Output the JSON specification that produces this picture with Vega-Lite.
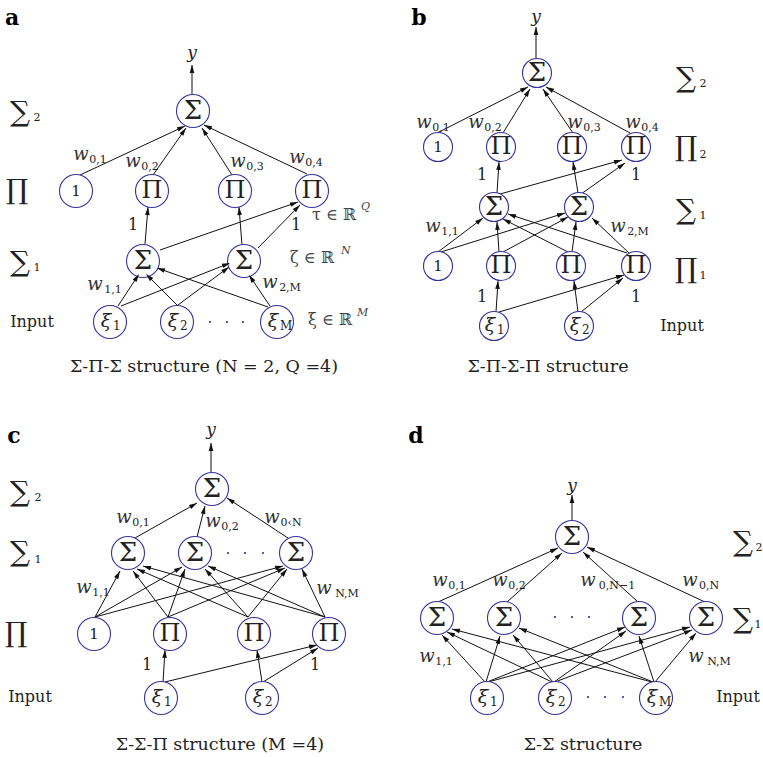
{
"$schema": "https://vega.github.io/schema/vega-lite/v6.json",
"width": 763, "height": 757,
"autosize": {"type": "fit", "contains": "padding"},
"padding": 0,
"background": "white",
"config": {"view": {"stroke": null}, "text": {"font": "DejaVu Serif", "color": "#222222"}},
"datasets": {
"edges": [
{"x":192,"y":95,"x2":192,"y2":65},
{"x":80,"y":175,"x2":185,"y2":126},
{"x":153,"y":175,"x2":186,"y2":128},
{"x":232,"y":175,"x2":202,"y2":128},
{"x":307,"y":174,"x2":204,"y2":125},
{"x":145,"y":244,"x2":148,"y2":207},
{"x":160,"y":250,"x2":298,"y2":202},
{"x":242,"y":245,"x2":239,"y2":207},
{"x":258,"y":248,"x2":300,"y2":205},
{"x":118,"y":306,"x2":139,"y2":274},
{"x":121,"y":306,"x2":230,"y2":263},
{"x":177,"y":305,"x2":146,"y2":274},
{"x":178,"y":305,"x2":229,"y2":267},
{"x":268,"y":307,"x2":157,"y2":268},
{"x":270,"y":306,"x2":249,"y2":275},
{"x":536,"y":59,"x2":536,"y2":27},
{"x":437,"y":133,"x2":528,"y2":87},
{"x":503,"y":133,"x2":530,"y2":89},
{"x":573,"y":133,"x2":543,"y2":89},
{"x":630,"y":133,"x2":546,"y2":87},
{"x":497,"y":193,"x2":499,"y2":162},
{"x":500,"y":194,"x2":622,"y2":160},
{"x":578,"y":193,"x2":573,"y2":162},
{"x":581,"y":194,"x2":625,"y2":163},
{"x":438,"y":252,"x2":483,"y2":218},
{"x":441,"y":252,"x2":565,"y2":213},
{"x":499,"y":252,"x2":497,"y2":222},
{"x":503,"y":252,"x2":568,"y2":217},
{"x":568,"y":252,"x2":503,"y2":219},
{"x":572,"y":252,"x2":576,"y2":222},
{"x":627,"y":253,"x2":508,"y2":214},
{"x":629,"y":253,"x2":592,"y2":218},
{"x":496,"y":312,"x2":498,"y2":281},
{"x":499,"y":312,"x2":624,"y2":275},
{"x":578,"y":312,"x2":574,"y2":281},
{"x":581,"y":312,"x2":623,"y2":278},
{"x":211,"y":472,"x2":211,"y2":443},
{"x":135,"y":538,"x2":197,"y2":503},
{"x":197,"y":537,"x2":205,"y2":506},
{"x":288,"y":538,"x2":227,"y2":498},
{"x":95,"y":617,"x2":120,"y2":571},
{"x":95,"y":617,"x2":182,"y2":567},
{"x":95,"y":617,"x2":283,"y2":566},
{"x":168,"y":617,"x2":133,"y2":571},
{"x":168,"y":617,"x2":185,"y2":569},
{"x":168,"y":617,"x2":285,"y2":568},
{"x":248,"y":617,"x2":137,"y2":569},
{"x":248,"y":617,"x2":205,"y2":569},
{"x":248,"y":617,"x2":287,"y2":569},
{"x":325,"y":617,"x2":143,"y2":566},
{"x":325,"y":617,"x2":208,"y2":566},
{"x":325,"y":617,"x2":302,"y2":569},
{"x":163,"y":682,"x2":165,"y2":650},
{"x":165,"y":682,"x2":317,"y2":645},
{"x":262,"y":682,"x2":257,"y2":650},
{"x":263,"y":682,"x2":318,"y2":648},
{"x":572,"y":522,"x2":572,"y2":495},
{"x":438,"y":602,"x2":558,"y2":548},
{"x":507,"y":602,"x2":562,"y2":553},
{"x":638,"y":602,"x2":583,"y2":552},
{"x":705,"y":602,"x2":587,"y2":547},
{"x":485,"y":682,"x2":442,"y2":635},
{"x":486,"y":682,"x2":500,"y2":636},
{"x":487,"y":682,"x2":625,"y2":627},
{"x":488,"y":682,"x2":690,"y2":627},
{"x":552,"y":682,"x2":447,"y2":632},
{"x":553,"y":682,"x2":513,"y2":635},
{"x":554,"y":682,"x2":626,"y2":631},
{"x":555,"y":682,"x2":692,"y2":630},
{"x":652,"y":682,"x2":452,"y2":629},
{"x":653,"y":682,"x2":519,"y2":628},
{"x":654,"y":682,"x2":639,"y2":636},
{"x":655,"y":682,"x2":696,"y2":633}
],
"nodes": [
{"p":"a","x":193,"y":111,"s":"Σ","sub":""},
{"p":"a","x":76,"y":191,"s":"1","sub":""},
{"p":"a","x":152,"y":191,"s":"Π","sub":""},
{"p":"a","x":235,"y":191,"s":"Π","sub":""},
{"p":"a","x":312,"y":191,"s":"Π","sub":""},
{"p":"a","x":143,"y":261,"s":"Σ","sub":""},
{"p":"a","x":244,"y":261,"s":"Σ","sub":""},
{"p":"a","x":110,"y":322,"s":"ξ","sub":"1"},
{"p":"a","x":177,"y":322,"s":"ξ","sub":"2"},
{"p":"a","x":277,"y":322,"s":"ξ","sub":"M"},
{"p":"b","x":537,"y":73,"s":"Σ","sub":""},
{"p":"b","x":438,"y":147,"s":"1","sub":""},
{"p":"b","x":501,"y":147,"s":"Π","sub":""},
{"p":"b","x":572,"y":147,"s":"Π","sub":""},
{"p":"b","x":636,"y":147,"s":"Π","sub":""},
{"p":"b","x":494,"y":207,"s":"Σ","sub":""},
{"p":"b","x":579,"y":207,"s":"Σ","sub":""},
{"p":"b","x":438,"y":266,"s":"1","sub":""},
{"p":"b","x":501,"y":266,"s":"Π","sub":""},
{"p":"b","x":571,"y":266,"s":"Π","sub":""},
{"p":"b","x":636,"y":266,"s":"Π","sub":""},
{"p":"b","x":494,"y":326,"s":"ξ","sub":"1"},
{"p":"b","x":579,"y":326,"s":"ξ","sub":"2"},
{"p":"c","x":212,"y":489,"s":"Σ","sub":""},
{"p":"c","x":128,"y":553,"s":"Σ","sub":""},
{"p":"c","x":195,"y":553,"s":"Σ","sub":""},
{"p":"c","x":296,"y":553,"s":"Σ","sub":""},
{"p":"c","x":94,"y":634,"s":"1","sub":""},
{"p":"c","x":170,"y":634,"s":"Π","sub":""},
{"p":"c","x":254,"y":634,"s":"Π","sub":""},
{"p":"c","x":329,"y":634,"s":"Π","sub":""},
{"p":"c","x":161,"y":698,"s":"ξ","sub":"1"},
{"p":"c","x":262,"y":698,"s":"ξ","sub":"2"},
{"p":"d","x":572,"y":537,"s":"Σ","sub":""},
{"p":"d","x":437,"y":618,"s":"Σ","sub":""},
{"p":"d","x":504,"y":618,"s":"Σ","sub":""},
{"p":"d","x":639,"y":618,"s":"Σ","sub":""},
{"p":"d","x":706,"y":618,"s":"Σ","sub":""},
{"p":"d","x":487,"y":698,"s":"ξ","sub":"1"},
{"p":"d","x":555,"y":698,"s":"ξ","sub":"2"},
{"p":"d","x":656,"y":698,"s":"ξ","sub":"M"}
],
"dots": [
{"x":210,"y":322},{"x":227,"y":322},{"x":243,"y":322},
{"x":228,"y":553},{"x":245,"y":553},{"x":263,"y":553},
{"x":555,"y":617},{"x":572,"y":617},{"x":589,"y":617},
{"x":588,"y":697},{"x":605,"y":697},{"x":623,"y":697}
],
"labels": [
{"x":12,"y":18,"t":"a","k":"letter"},
{"x":419,"y":18,"t":"b","k":"letter"},
{"x":14,"y":436,"t":"c","k":"letter"},
{"x":416,"y":436,"t":"d","k":"letter"},
{"x":192,"y":53,"t":"y","k":"it"},
{"x":536,"y":17,"t":"y","k":"it"},
{"x":211,"y":430,"t":"y","k":"it"},
{"x":572,"y":486,"t":"y","k":"it"},
{"x":81,"y":155,"t":"w","k":"w"},{"x":98,"y":160,"t":"0,1","k":"sub"},
{"x":133,"y":162,"t":"w","k":"w"},{"x":150,"y":167,"t":"0,2","k":"sub"},
{"x":238,"y":162,"t":"w","k":"w"},{"x":255,"y":167,"t":"0,3","k":"sub"},
{"x":297,"y":158,"t":"w","k":"w"},{"x":314,"y":163,"t":"0,4","k":"sub"},
{"x":95,"y":285,"t":"w","k":"w"},{"x":113,"y":290,"t":"1,1","k":"sub"},
{"x":270,"y":283,"t":"w","k":"w"},{"x":290,"y":288,"t":"2,M","k":"sub"},
{"x":424,"y":123,"t":"w","k":"w"},{"x":441,"y":128,"t":"0,1","k":"sub"},
{"x":476,"y":123,"t":"w","k":"w"},{"x":493,"y":128,"t":"0,2","k":"sub"},
{"x":575,"y":123,"t":"w","k":"w"},{"x":592,"y":128,"t":"0,3","k":"sub"},
{"x":633,"y":123,"t":"w","k":"w"},{"x":650,"y":128,"t":"0,4","k":"sub"},
{"x":433,"y":227,"t":"w","k":"w"},{"x":450,"y":232,"t":"1,1","k":"sub"},
{"x":618,"y":227,"t":"w","k":"w"},{"x":638,"y":232,"t":"2,M","k":"sub"},
{"x":124,"y":518,"t":"w","k":"w"},{"x":141,"y":523,"t":"0,1","k":"sub"},
{"x":213,"y":522,"t":"w","k":"w"},{"x":230,"y":527,"t":"0,2","k":"sub"},
{"x":272,"y":518,"t":"w","k":"w"},{"x":291,"y":523,"t":"0‹N","k":"sub"},
{"x":84,"y":588,"t":"w","k":"w"},{"x":101,"y":593,"t":"1,1","k":"sub"},
{"x":324,"y":589,"t":"w","k":"w"},{"x":347,"y":594,"t":"N,M","k":"sub"},
{"x":440,"y":581,"t":"w","k":"w"},{"x":457,"y":586,"t":"0,1","k":"sub"},
{"x":500,"y":581,"t":"w","k":"w"},{"x":517,"y":586,"t":"0,2","k":"sub"},
{"x":588,"y":581,"t":"w","k":"w"},{"x":617,"y":586,"t":"0,N−1","k":"sub"},
{"x":690,"y":581,"t":"w","k":"w"},{"x":709,"y":586,"t":"0,N","k":"sub"},
{"x":427,"y":657,"t":"w","k":"w"},{"x":444,"y":662,"t":"1,1","k":"sub"},
{"x":696,"y":657,"t":"w","k":"w"},{"x":719,"y":662,"t":"N,M","k":"sub"},
{"x":20,"y":113,"t":"∑","k":"side"},{"x":37,"y":118,"t":"2","k":"sub"},
{"x":17,"y":191,"t":"∏","k":"side"},
{"x":20,"y":263,"t":"∑","k":"side"},{"x":37,"y":268,"t":"1","k":"sub"},
{"x":686,"y":79,"t":"∑","k":"side"},{"x":703,"y":84,"t":"2","k":"sub"},
{"x":686,"y":148,"t":"∏","k":"side"},{"x":703,"y":155,"t":"2","k":"sub"},
{"x":686,"y":211,"t":"∑","k":"side"},{"x":703,"y":216,"t":"1","k":"sub"},
{"x":686,"y":270,"t":"∏","k":"side"},{"x":703,"y":276,"t":"1","k":"sub"},
{"x":20,"y":493,"t":"∑","k":"side"},{"x":38,"y":498,"t":"2","k":"sub"},
{"x":20,"y":553,"t":"∑","k":"side"},{"x":38,"y":560,"t":"1","k":"sub"},
{"x":16,"y":634,"t":"∏","k":"side"},
{"x":743,"y":543,"t":"∑","k":"side"},{"x":759,"y":548,"t":"2","k":"sub"},
{"x":743,"y":620,"t":"∑","k":"side"},{"x":758,"y":625,"t":"1","k":"sub"},
{"x":133,"y":225,"t":"1","k":"txt"},
{"x":296,"y":225,"t":"1","k":"txt"},
{"x":482,"y":175,"t":"1","k":"txt"},
{"x":636,"y":175,"t":"1","k":"txt"},
{"x":482,"y":297,"t":"1","k":"txt"},
{"x":636,"y":297,"t":"1","k":"txt"},
{"x":147,"y":665,"t":"1","k":"txt"},
{"x":315,"y":665,"t":"1","k":"txt"},
{"x":32,"y":322,"t":"Input","k":"txt"},
{"x":682,"y":326,"t":"Input","k":"txt"},
{"x":30,"y":697,"t":"Input","k":"txt"},
{"x":738,"y":697,"t":"Input","k":"txt"},
{"x":204,"y":367,"t":"Σ-Π-Σ structure (N = 2, Q =4)","k":"cap"},
{"x":548,"y":367,"t":"Σ-Π-Σ-Π structure","k":"cap"},
{"x":220,"y":745,"t":"Σ-Σ-Π structure (M =4)","k":"cap"},
{"x":583,"y":745,"t":"Σ-Σ structure","k":"cap"},
{"x":312,"y":215,"t":"τ ∈ ℝ","k":"set"},{"x":361,"y":207,"t":"Q","k":"sup"},
{"x":290,"y":258,"t":"ζ ∈ ℝ","k":"set"},{"x":341,"y":251,"t":"N","k":"sup"},
{"x":308,"y":320,"t":"ξ ∈ ℝ","k":"set"},{"x":357,"y":313,"t":"M","k":"sup"}
]
},
"encoding": {
"x": {"field": "x", "type": "quantitative", "scale": {"domain": [0, 763], "nice": false, "zero": false}, "axis": null},
"y": {"field": "y", "type": "quantitative", "scale": {"domain": [0, 757], "nice": false, "zero": false, "reverse": true}, "axis": null}
},
"layer": [
{"data": {"name": "edges"}, "mark": {"type": "rule", "color": "#111111", "strokeWidth": 1},
 "encoding": {"x2": {"field": "x2"}, "y2": {"field": "y2"}}},
{"data": {"name": "nodes"}, "transform": [{"filter": "datum.p !== 'b'"}],
 "mark": {"type": "point", "shape": "circle", "size": 1089, "fill": "white", "filled": true, "stroke": "#33339f", "strokeWidth": 1.1, "opacity": 1}},
{"data": {"name": "nodes"}, "transform": [{"filter": "datum.p === 'b'"}],
 "mark": {"type": "point", "shape": "circle", "size": 841, "fill": "white", "filled": true, "stroke": "#33339f", "strokeWidth": 1.1, "opacity": 1}},
{"data": {"name": "edges"}, "transform": [{"calculate": "atan2(datum.x2 - datum.x, datum.y - datum.y2) * 180 / PI", "as": "ang"}],
 "mark": {"type": "point", "shape": "M0,0L-0.5,1.7L0.5,1.7Z", "size": 88, "filled": true, "color": "#111111", "opacity": 1, "strokeWidth": 0},
 "encoding": {"x": {"field": "x2", "type": "quantitative"}, "y": {"field": "y2", "type": "quantitative"}, "angle": {"field": "ang", "type": "quantitative", "scale": null}}},
{"data": {"name": "dots"}, "mark": {"type": "point", "shape": "circle", "size": 5, "filled": true, "color": "#33339f", "opacity": 1}},
{"data": {"name": "nodes"}, "transform": [{"filter": "datum.s === 'Σ'"}],
 "mark": {"type": "text", "fontSize": 26, "baseline": "middle", "align": "center"},
 "encoding": {"text": {"field": "s"}}},
{"data": {"name": "nodes"}, "transform": [{"filter": "datum.s === 'Π'"}],
 "mark": {"type": "text", "fontSize": 24, "baseline": "middle", "align": "center"},
 "encoding": {"text": {"field": "s"}}},
{"data": {"name": "nodes"}, "transform": [{"filter": "datum.s === '1'"}],
 "mark": {"type": "text", "fontSize": 15, "baseline": "middle", "align": "center"},
 "encoding": {"text": {"field": "s"}}},
{"data": {"name": "nodes"}, "transform": [{"filter": "datum.s === 'ξ'"}],
 "mark": {"type": "text", "fontSize": 19, "fontStyle": "italic", "baseline": "middle", "align": "center", "dx": -4, "dy": -1},
 "encoding": {"text": {"field": "s"}}},
{"data": {"name": "nodes"}, "transform": [{"filter": "datum.s === 'ξ'"}],
 "mark": {"type": "text", "fontSize": 12, "baseline": "middle", "align": "left", "dx": 3, "dy": 4},
 "encoding": {"text": {"field": "sub"}}},
{"data": {"name": "labels"}, "transform": [{"filter": "datum.k === 'letter'"}],
 "mark": {"type": "text", "fontSize": 22, "fontWeight": "bold", "baseline": "middle", "align": "center", "color": "#000000"},
 "encoding": {"text": {"field": "t"}}},
{"data": {"name": "labels"}, "transform": [{"filter": "datum.k === 'it'"}],
 "mark": {"type": "text", "fontSize": 17, "fontStyle": "italic", "baseline": "middle", "align": "center"},
 "encoding": {"text": {"field": "t"}}},
{"data": {"name": "labels"}, "transform": [{"filter": "datum.k === 'w'"}],
 "mark": {"type": "text", "fontSize": 18, "fontStyle": "italic", "baseline": "middle", "align": "center", "color": "#333333"},
 "encoding": {"text": {"field": "t"}}},
{"data": {"name": "labels"}, "transform": [{"filter": "datum.k === 'sub'"}],
 "mark": {"type": "text", "fontSize": 11, "baseline": "middle", "align": "center"},
 "encoding": {"text": {"field": "t"}}},
{"data": {"name": "labels"}, "transform": [{"filter": "datum.k === 'side'"}],
 "mark": {"type": "text", "fontSize": 28, "baseline": "middle", "align": "center"},
 "encoding": {"text": {"field": "t"}}},
{"data": {"name": "labels"}, "transform": [{"filter": "datum.k === 'txt'"}],
 "mark": {"type": "text", "fontSize": 16, "baseline": "middle", "align": "center"},
 "encoding": {"text": {"field": "t"}}},
{"data": {"name": "labels"}, "transform": [{"filter": "datum.k === 'cap'"}],
 "mark": {"type": "text", "fontSize": 17.5, "baseline": "middle", "align": "center"},
 "encoding": {"text": {"field": "t"}}},
{"data": {"name": "labels"}, "transform": [{"filter": "datum.k === 'set'"}],
 "mark": {"type": "text", "fontSize": 16, "baseline": "middle", "align": "left", "color": "#444444"},
 "encoding": {"text": {"field": "t"}}},
{"data": {"name": "labels"}, "transform": [{"filter": "datum.k === 'sup'"}],
 "mark": {"type": "text", "fontSize": 11, "fontStyle": "italic", "baseline": "middle", "align": "left", "color": "#444444"},
 "encoding": {"text": {"field": "t"}}}
]
}
